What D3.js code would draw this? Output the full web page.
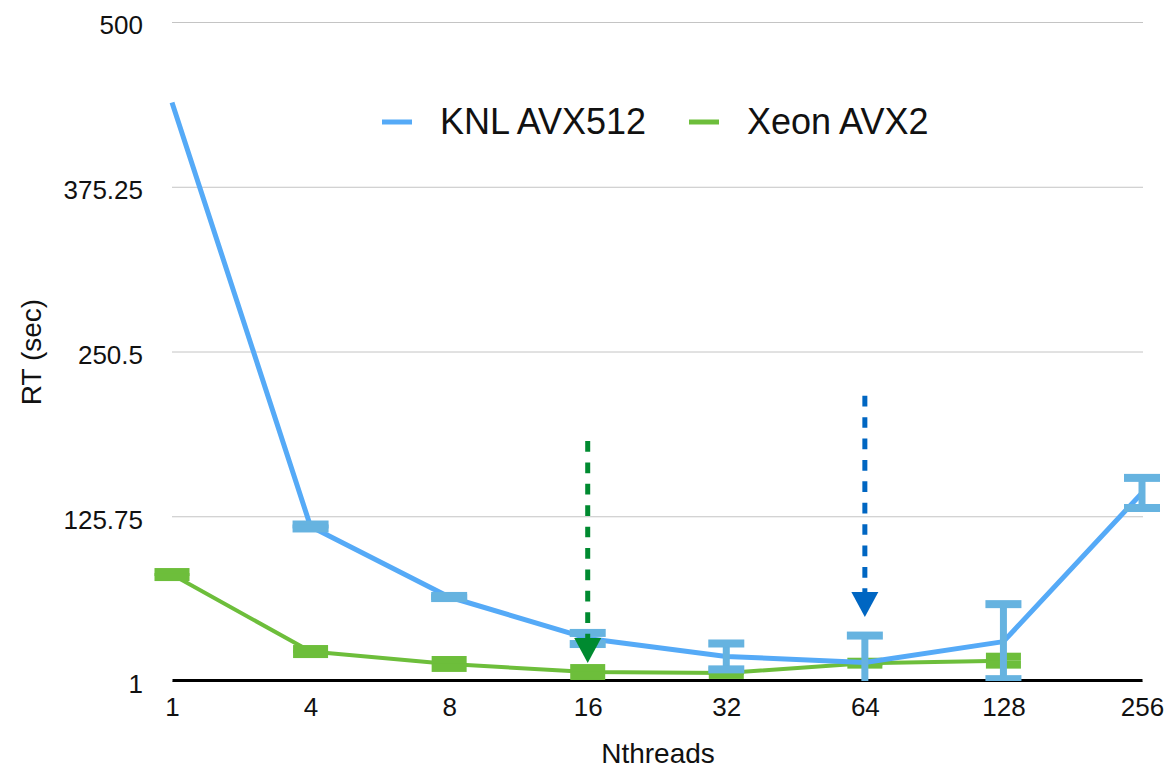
<!DOCTYPE html>
<html>
<head>
<meta charset="utf-8">
<script src="https://cdn.jsdelivr.net/npm/d3@7"></script>
<style>
  html, body { margin: 0; padding: 0; background: #fff; }
  svg { display: block; font-family: "Liberation Sans", Arial, Helvetica, sans-serif; }
</style>
</head>
<body>
<svg id="chart" width="1168" height="768"></svg>
<script>
// ---- data ----
const categories = ["1", "4", "8", "16", "32", "64", "128", "256"];
const knlValues  = [439, 118, 64.6, 33.2, 19.6, 15.0, 30.8, 143.4];
const knlErrors  = [0, 1.5, 0.8, 4.2, 9.8, 20.4, 28.4, 11.4];
const xeonCategories = ["1", "4", "8", "16", "32", "64", "128"];
const xeonValues = [81.6, 23.3, 13.9, 7.8, 7.1, 14.5, 16.4];
const xeonErrors = [1.9, 1.9, 3, 3, 1.5, 1.1, 3];
const yTicks = [1, 125.75, 250.5, 375.25, 500];
const seriesNames = ["KNL AVX512", "Xeon AVX2"];
// annotation arrows: category, start value, tip value
const arrowCats = ["16", "64"];
const arrowFrom = [182.7, 217];
const arrowTo   = [14.6, 49.5];

(function () {
// ---- styles ----
const blueLine = "#55aaf7", blueErr = "#66b3e0";
const green = "#6dbe3b";
const arrowColors = ["#008a30", "#0066c2"];

const svg = d3.select("#chart");
const pLeft = 172, pRight = 1142, pTop = 22, pBottom = 681;

const x = d3.scalePoint().domain(categories).range([pLeft, pRight]).padding(0);
const y = d3.scaleLinear().domain([1, 500]).range([pBottom, pTop]);

// clip for error bars
svg.append("defs").append("clipPath").attr("id", "plotclip")
  .append("rect").attr("x", 0).attr("y", 0).attr("width", 1168).attr("height", pBottom);

// y axis + gridlines
const yAxis = svg.append("g")
  .attr("transform", `translate(${pLeft},0)`)
  .call(d3.axisLeft(y).tickValues(yTicks).tickFormat(d => String(d))
        .tickSizeInner(-(pRight - pLeft + 1)).tickSizeOuter(0).tickPadding(29));
yAxis.select(".domain").remove();
yAxis.selectAll(".tick line").attr("stroke", "#c4c4c4").attr("stroke-width", 1);
yAxis.selectAll(".tick text").attr("font-size", 26).attr("fill", "#111").attr("dy", "0.46em")
  .attr("font-family", "Liberation Sans, Arial, sans-serif");

// x axis
const xAxis = svg.append("g")
  .attr("transform", `translate(0,${pBottom - 1})`)
  .call(d3.axisBottom(x).tickSizeInner(0).tickSizeOuter(0).tickPadding(18));
xAxis.select(".domain").attr("stroke", "#000").attr("stroke-width", 3);
xAxis.selectAll(".tick text").attr("font-size", 26).attr("fill", "#111")
  .attr("font-family", "Liberation Sans, Arial, sans-serif");

// axis titles
svg.append("text").attr("x", 658).attr("y", 763).attr("text-anchor", "middle")
  .attr("font-size", 28).attr("fill", "#111").text("Nthreads");
svg.append("text").attr("transform", "translate(41,352) rotate(-90)").attr("text-anchor", "middle")
  .attr("font-size", 28).attr("fill", "#111").text("RT (sec)");

const line = d3.line().x(d => x(d.c)).y(d => y(d.v));

// error bar drawer
function errorBars(g, cats, vals, errs, color, capW, capH, stemW) {
  const data = cats.map((c, i) => ({ c, v: vals[i], e: errs[i] })).filter(d => d.e > 0);
  const eb = g.append("g").attr("clip-path", "url(#plotclip)");
  data.forEach(d => {
    const yt = y(d.v + d.e), yb = y(d.v - d.e), cx = x(d.c);
    eb.append("line").attr("x1", cx).attr("x2", cx).attr("y1", yt).attr("y2", yb)
      .attr("stroke", color).attr("stroke-width", stemW);
    eb.append("rect").attr("x", cx - capW / 2).attr("y", yt - capH / 2)
      .attr("width", capW).attr("height", capH).attr("fill", color);
    eb.append("rect").attr("x", cx - capW / 2).attr("y", yb - capH / 2)
      .attr("width", capW).attr("height", capH).attr("fill", color);
  });
}

// Xeon series
const xeonData = xeonCategories.map((c, i) => ({ c, v: xeonValues[i] }));
const gX = svg.append("g");
gX.append("path").datum(xeonData).attr("d", line).attr("fill", "none")
  .attr("stroke", green).attr("stroke-width", 4).attr("stroke-linejoin", "round");
errorBars(gX, xeonCategories, xeonValues, xeonErrors, green, 35, 8, 7);

// KNL series
const knlData = categories.map((c, i) => ({ c, v: knlValues[i] }));
const gK = svg.append("g");
gK.append("path").datum(knlData).attr("d", line).attr("fill", "none")
  .attr("stroke", blueLine).attr("stroke-width", 5).attr("stroke-linejoin", "round");
errorBars(gK, categories, knlValues, knlErrors, blueErr, 36, 8, 7);

// arrows
arrowCats.forEach((c, i) => {
  const cx = x(c), y0 = y(arrowFrom[i]), tip = y(arrowTo[i]);
  const headH = 25, headW = 27;
  svg.append("line").attr("x1", cx).attr("x2", cx).attr("y1", y0).attr("y2", tip - headH + 2)
    .attr("stroke", arrowColors[i]).attr("stroke-width", 5).attr("stroke-dasharray", "10.7 10.7");
  svg.append("path")
    .attr("d", `M${cx - headW / 2},${tip - headH}L${cx + headW / 2},${tip - headH}L${cx},${tip}Z`)
    .attr("fill", arrowColors[i]);
});

// legend
const legendX = [382, 689];
const legendColors = [blueLine, green];
seriesNames.forEach((n, i) => {
  svg.append("line").attr("x1", legendX[i]).attr("x2", legendX[i] + 30)
    .attr("y1", 122).attr("y2", 122).attr("stroke", legendColors[i]).attr("stroke-width", 5);
  svg.append("text").attr("x", legendX[i] + 58).attr("y", 134)
    .attr("font-size", 36).attr("fill", "#111").text(n);
});
})();
</script>
</body>
</html>
